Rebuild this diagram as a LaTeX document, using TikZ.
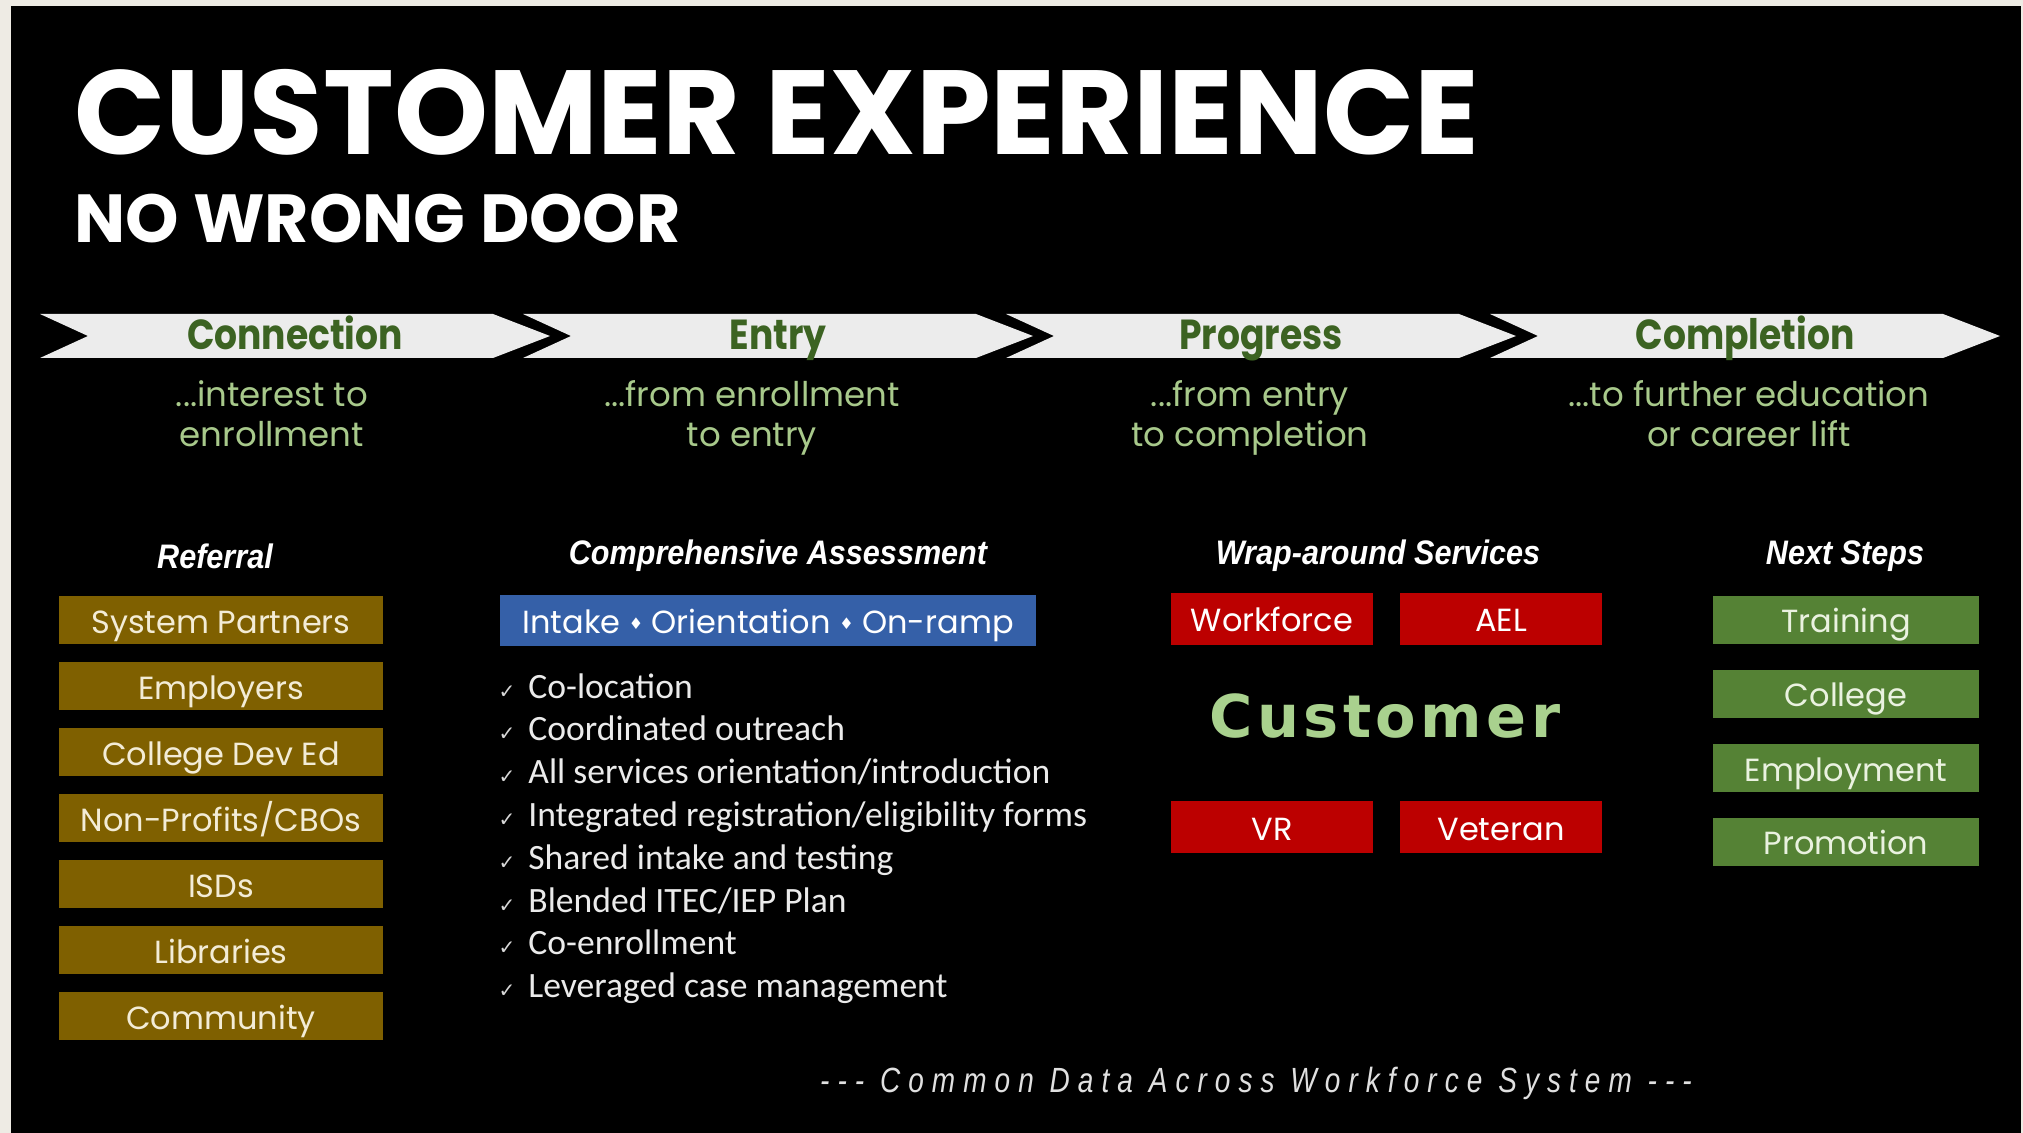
\documentclass[tikz,border=0pt]{standalone}
\usepackage{fontspec}
\setmainfont{Poppins}
\newfontfamily\popc{Poppins}[FakeStretch=0.86]
\newfontfamily\hdrfont{Liberation Sans}[FakeStretch=0.9]
\newfontfamily\calfont{Carlito}
\newfontfamily\custfont{DejaVu Sans}[LetterSpace=7.5]
\newfontfamily\footfont{Liberation Sans}[FakeStretch=0.8,LetterSpace=23]
\newfontfamily\djv{DejaVu Sans}
\definecolor{cream}{HTML}{EEEBE4}
\definecolor{chev}{HTML}{ECECEC}
\definecolor{chevtxt}{HTML}{3C6322}
\definecolor{subgreen}{HTML}{A8C98B}
\definecolor{gold}{HTML}{7F6000}
\definecolor{goldtxt}{HTML}{F3ECD6}
\definecolor{bluebox}{HTML}{3560A8}
\definecolor{redbox}{HTML}{BC0000}
\definecolor{greenbox}{HTML}{558235}
\definecolor{greentxt}{HTML}{EAF2E0}
\definecolor{custgreen}{HTML}{A9D18E}
\definecolor{checkgray}{HTML}{D8D8D8}
\tikzset{
  chevlab/.style={anchor=base,inner sep=0pt,text=chevtxt,font=\popc\bfseries\fontsize{21}{24}\selectfont},
  subtxt/.style={align=center,inner sep=0pt,text=subgreen,font=\fontsize{17}{20}\selectfont},
  hdr/.style={inner sep=0pt,text=white,font=\hdrfont\bfseries\itshape\fontsize{17}{20}\selectfont},
  boxbase/.style={inner sep=0pt,text height=13pt,text depth=0pt,font=\fontsize{16}{18}\selectfont},
  goldbox/.style={boxbase,fill=gold,text=goldtxt,minimum width=162pt,minimum height=24pt},
  redbx/.style={boxbase,fill=redbox,text=white,minimum width=101pt,minimum height=26pt},
  greenbx/.style={boxbase,fill=greenbox,text=greentxt,minimum width=133pt,minimum height=24pt},
  checkitem/.style={anchor=base west,inner sep=0pt,text=white!92!black,font=\calfont\fontsize{17.8}{20}\selectfont},
  checkmk/.style={anchor=base,inner sep=0pt,text=checkgray,font=\djv\fontsize{10}{10}\selectfont},
}
\begin{document}
\begin{tikzpicture}[x=0.5pt,y=-0.5pt]
\useasboundingbox (0,0) rectangle (2023,1133);
\fill[cream] (0,0) rectangle (2023,1133);
\fill[black] (11,6) rectangle (2021,1133);
% title
\node[anchor=base west,inner sep=0pt,text=white,font=\bfseries\fontsize{59.8}{62}\selectfont] (title) at (74,155) {CUSTOMER EXPERIENCE};
\node[anchor=base west,inner sep=0pt,text=white,font=\bfseries\fontsize{34}{36}\selectfont] (subtitle) at (74,243) {NO WRONG DOOR};
% chevrons
\foreach \xo/\lab/\nm in {40/Connection/cA,523/Entry/cB,1006/Progress/cC,1490/Completion/cD}{
  \fill[chev] (\xo,314) -- ++(453,0) -- ++(57,22) -- ++(-57,22) -- ++(-453,0) -- ++(48,-22) -- cycle;
  \node[chevlab] (\nm) at (\xo+255,350) {\lab};
}
\node[subtxt] (sA) at (272,419) {\strut...interest to\\\strut enrollment};
\node[subtxt] (sB) at (752,419) {\strut...from enrollment\\\strut to entry};
\node[subtxt] (sC) at (1250,419) {\strut...from entry\\\strut to completion};
\node[subtxt] (sD) at (1749,419) {\strut...to further education\\\strut or career lift};
% headers
\node[hdr] (hA) at (215,556) {Referral};
\node[hdr] (hB) at (778,556) {Comprehensive Assessment};
\node[hdr] (hC) at (1378,556) {Wrap-around Services};
\node[hdr] (hD) at (1845,556) {Next Steps};
% referral boxes
\node[goldbox] (g1) at (221,620) {System Partners};
\node[goldbox] (g2) at (221,686) {Employers};
\node[goldbox] (g3) at (221,752) {College Dev Ed};
\node[goldbox] (g4) at (221,818) {Non-Profits/CBOs};
\node[goldbox] (g5) at (221,884) {ISDs};
\node[goldbox] (g6) at (221,950) {Libraries};
\node[goldbox] (g7) at (221,1016) {Community};
% assessment
\node[boxbase,fill=bluebox,text=white,minimum width=268pt,minimum height=25.5pt,font=\fontsize{16}{18}\selectfont] (blue) at (768,620.5)
  {Intake {\djv\fontsize{8}{8}\selectfont\raisebox{2pt}{♦}} Orientation {\djv\fontsize{8}{8}\selectfont\raisebox{2pt}{♦}} On-ramp};
\foreach \t [count=\i from 0] in {Co-location,Coordinated outreach,All services orientation/introduction,Integrated registration/eligibility forms,Shared intake and testing,Blended ITEC/IEP Plan,Co-enrollment,Leveraged case management}{
  \node[checkmk] (ck\i) at (507,698+42.8*\i) {✓};
  \node[checkitem] (it\i) at (528,698+42.8*\i) {\t};
}
% wrap-around
\node[redbx] (wf) at (1272,619) {Workforce};
\node[redbx] (ael) at (1501,619) {AEL};
\node[redbx] (vr) at (1272,827) {VR};
\node[redbx] (vet) at (1501,827) {Veteran};
\node[anchor=base,inner sep=0pt,text=custgreen,font=\custfont\bfseries\fontsize{29.5}{32}\selectfont] (cust) at (1385,737) {Customer};
% next steps
\node[greenbx] (n1) at (1846,619.5) {Training};
\node[greenbx] (n2) at (1846,693.5) {College};
\node[greenbx] (n3) at (1846,768) {Employment};
\node[greenbx] (n4) at (1846,841.5) {Promotion};
% footer
\node[anchor=base,inner sep=0pt,text=white!88!black,font=\footfont\itshape\fontsize{17.5}{20}\selectfont] (foot) at (1256,1092) {-{}-{}- Common Data Across Workforce System -{}-{}-};
\end{tikzpicture}
\end{document}
